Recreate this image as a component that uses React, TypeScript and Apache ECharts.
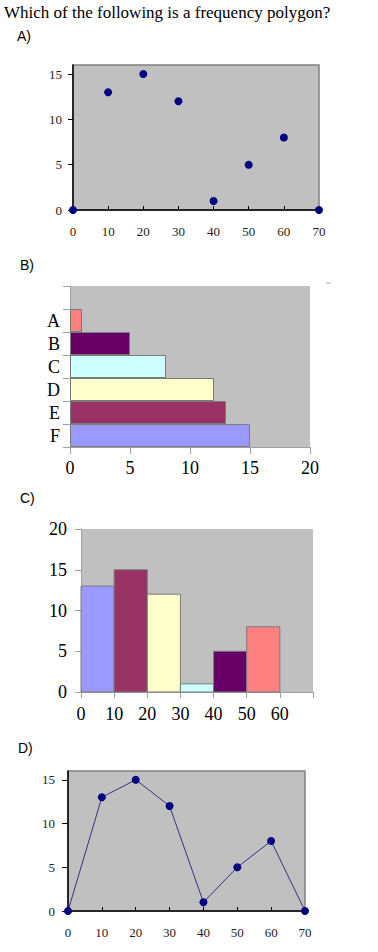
import React, { useEffect, useRef } from "react";
import * as echarts from "echarts";

const questionText = "Which of the following is a frequency polygon?";
const optionLabels = ["A)", "B)", "C)", "D)"];

// Chart A / D: points of the frequency data
const pointX = [0, 10, 20, 30, 40, 50, 60, 70];
const pointY = [0, 13, 15, 12, 1, 5, 8, 0];

// Chart B: horizontal bars
const barCategories = ["A", "B", "C", "D", "E", "F"];
const barValues = [1, 5, 8, 12, 13, 15];
const barColors = ["#ff8080", "#660066", "#ccffff", "#ffffcc", "#993366", "#9999ff"];

// Chart C: histogram
const histStart = [0, 10, 20, 30, 40, 50];
const histEnd = [10, 20, 30, 40, 50, 60];
const histFreq = [13, 15, 12, 1, 5, 8];
const histColors = ["#9999ff", "#993366", "#ffffcc", "#ccffff", "#660066", "#ff8080"];

const yTicksSmall = [0, 5, 10, 15];
const xTicksC = [0, 10, 20, 30, 40, 50, 60];

const SERIF = "Liberation Serif";
const SANS = "Liberation Sans";

export default function App() {
  const ref = useRef<HTMLDivElement>(null);

  useEffect(() => {
    if (!ref.current) return;
    const chart = echarts.init(ref.current, undefined, { renderer: "svg" });

    const smallLabel = { fontFamily: SERIF, fontSize: 13, color: "#222" };
    const bigLabel = { fontFamily: SERIF, fontSize: 18, color: "#000" };

    const option: any = {
      animation: false,
      backgroundColor: "#ffffff",
      grid: [
        { left: 73, top: 65, width: 246, height: 145, show: true, backgroundColor: "#c0c0c0", borderColor: "#808080", borderWidth: 1.5 },
        { left: 70, top: 286, width: 240, height: 161, show: true, backgroundColor: "#c0c0c0", borderWidth: 0 },
        { left: 81, top: 529, width: 232, height: 163, show: true, backgroundColor: "#c0c0c0", borderWidth: 0 },
        { left: 68, top: 771, width: 237, height: 140, show: true, backgroundColor: "#c0c0c0", borderColor: "#808080", borderWidth: 1.5 },
      ],
      xAxis: [
        {
          gridIndex: 0, type: "value", min: 0, max: 70, interval: 10,
          axisLine: { show: true, lineStyle: { color: "#000", width: 1.5 } },
          axisTick: { show: true, inside: true, length: 4, lineStyle: { color: "#000" } },
          axisLabel: { ...smallLabel, margin: 15 },
          splitLine: { show: false },
        },
        {
          gridIndex: 1, type: "value", min: 0, max: 20, interval: 5,
          axisLine: { show: true, lineStyle: { color: "#a0a0a0", width: 1 } },
          axisTick: { show: true, length: 7, lineStyle: { color: "#a0a0a0" } },
          axisLabel: { ...bigLabel, margin: 12 },
          splitLine: { show: false },
        },
        {
          gridIndex: 2, type: "value", min: 0, max: 70, interval: 10,
          axisLine: { show: true, lineStyle: { color: "#a0a0a0", width: 1 } },
          axisTick: { show: true, length: 6, lineStyle: { color: "#a0a0a0" } },
          axisLabel: { ...bigLabel, margin: 13, customValues: xTicksC },
          splitLine: { show: false },
        },
        {
          gridIndex: 3, type: "value", min: 0, max: 70, interval: 10,
          axisLine: { show: true, lineStyle: { color: "#000", width: 1.5 } },
          axisTick: { show: true, inside: true, length: 4, lineStyle: { color: "#000" } },
          axisLabel: { ...smallLabel, margin: 15 },
          splitLine: { show: false },
        },
      ],
      yAxis: [
        {
          gridIndex: 0, type: "value", min: 0, max: 16,
          axisLine: { show: true, lineStyle: { color: "#000", width: 1.5 } },
          axisTick: { show: true, length: 5, lineStyle: { color: "#000" }, customValues: yTicksSmall },
          axisLabel: { ...smallLabel, margin: 11, customValues: yTicksSmall },
          splitLine: { show: false },
        },
        {
          gridIndex: 1, type: "category", inverse: true,
          data: [""].concat(barCategories),
          axisLine: { show: true, lineStyle: { color: "#a0a0a0", width: 1 } },
          axisTick: { show: true, length: 7, interval: 0, alignWithLabel: false, lineStyle: { color: "#a0a0a0" } },
          axisLabel: { ...bigLabel, margin: 10, interval: 0 },
          splitLine: { show: false },
        },
        {
          gridIndex: 2, type: "value", min: 0, max: 20, interval: 5,
          axisLine: { show: true, lineStyle: { color: "#a0a0a0", width: 1 } },
          axisTick: { show: true, length: 6, lineStyle: { color: "#a0a0a0" } },
          axisLabel: { ...bigLabel, margin: 14 },
          splitLine: { show: false },
        },
        {
          gridIndex: 3, type: "value", min: 0, max: 16,
          axisLine: { show: true, lineStyle: { color: "#000", width: 1.5 } },
          axisTick: { show: true, length: 6, lineStyle: { color: "#000" }, customValues: yTicksSmall },
          axisLabel: { ...smallLabel, margin: 13, customValues: yTicksSmall },
          splitLine: { show: false },
        },
      ],
      series: [
        {
          type: "scatter", xAxisIndex: 0, yAxisIndex: 0,
          data: pointX.map((x, i) => [x, pointY[i]]),
          symbol: "circle", symbolSize: 8, clip: false,
          itemStyle: { color: "#000080", opacity: 1 },
        },
        {
          type: "bar", xAxisIndex: 1, yAxisIndex: 1,
          data: [null as any].concat(
            barValues.map((v, i) => ({ value: v, itemStyle: { color: barColors[i] } }))
          ),
          barCategoryGap: 0, barGap: 0,
          itemStyle: { borderColor: "#7a7a7a", borderWidth: 1 },
        },
        {
          type: "custom", xAxisIndex: 2, yAxisIndex: 2,
          data: histStart.map((s, i) => [s, histEnd[i], histFreq[i]]),
          encode: { x: [0, 1], y: 2 },
          renderItem: (params: any, api: any) => {
            const p0 = api.coord([api.value(0), api.value(2)]);
            const p1 = api.coord([api.value(1), 0]);
            return {
              type: "rect",
              shape: { x: p0[0], y: p0[1], width: p1[0] - p0[0], height: p1[1] - p0[1] },
              style: { fill: histColors[params.dataIndex], stroke: "#7a7a7a", lineWidth: 1 },
            };
          },
        },
        {
          type: "line", xAxisIndex: 3, yAxisIndex: 3,
          data: pointX.map((x, i) => [x, pointY[i]]),
          symbol: "circle", symbolSize: 8, showSymbol: true, clip: false,
          lineStyle: { color: "#333380", width: 1 },
          itemStyle: { color: "#000080" },
        },
      ],
      graphic: [
        { type: "text", left: 4, top: 4, style: { text: questionText, fontFamily: SERIF, fontSize: 17, fill: "#000" } },
        { type: "text", left: 17, top: 29, style: { text: optionLabels[0], fontFamily: SANS, fontSize: 14, fill: "#000" } },
        { type: "text", left: 20, top: 258, style: { text: optionLabels[1], fontFamily: SANS, fontSize: 14, fill: "#000" } },
        { type: "text", left: 20, top: 491, style: { text: optionLabels[2], fontFamily: SANS, fontSize: 14, fill: "#000" } },
        { type: "text", left: 18, top: 741, style: { text: optionLabels[3], fontFamily: SANS, fontSize: 14, fill: "#000" } },
        { type: "line", shape: { x1: 326, y1: 283, x2: 331, y2: 283 }, style: { stroke: "#b0b0b0", lineWidth: 1 } },
      ],
    };

    chart.setOption(option);
    return () => chart.dispose();
  }, []);

  return (
    <div
      ref={ref}
      style={{ position: "absolute", left: 0, top: 0, width: 378, height: 952, background: "#fff" }}
    />
  );
}
